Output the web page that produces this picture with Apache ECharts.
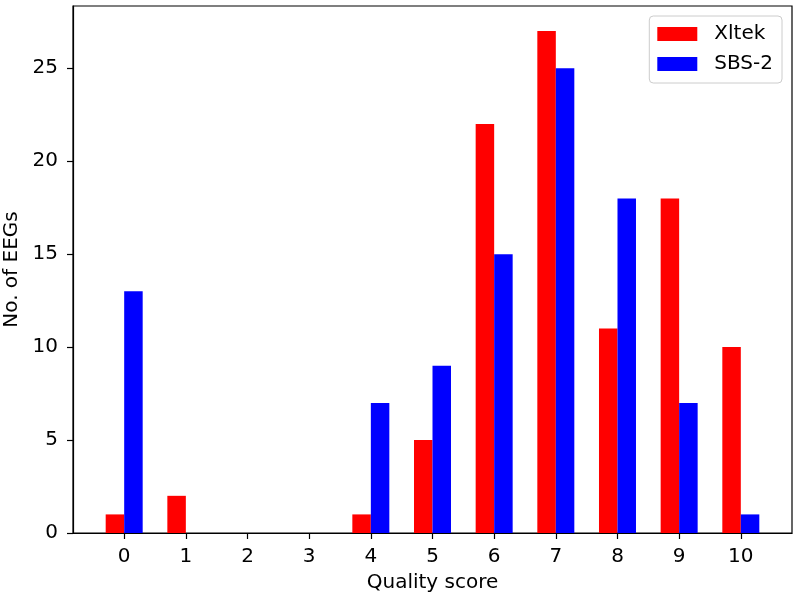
<!DOCTYPE html>
<html>
<head>
<meta charset="utf-8">
<script src="https://cdn.jsdelivr.net/npm/echarts@6/dist/echarts.min.js"></script>
<style>html,body{margin:0;padding:0;background:#fff;}#c{width:800px;height:601px;}</style>
</head>
<body>
<div id="c"></div>
<script>
const scores = [0,1,2,3,4,5,6,7,8,9,10];
const xltek = [1,2,0,0,1,5,22,27,11,18,10];
const sbs2 = [13,0,0,0,7,9,15,25,18,7,1];
const yTicks = [0,5,10,15,20,25];

const chart = echarts.init(document.getElementById('c'));
const font = 'DejaVu Sans';
const fs = 20;
chart.setOption({
  animation: false,
  backgroundColor: '#fff',
  textStyle: {fontFamily: font},
  grid: {left: 73, right: 8, top: 6, bottom: 68, containLabel: false, outerBoundsMode: 'none', show: true, borderColor: '#000', borderWidth: 1.2, backgroundColor: 'transparent'},
  legend: {
    orient: 'vertical', right: 18, top: 16,
    icon: 'rect', itemWidth: 40, itemHeight: 14, itemGap: 10,
    padding: [8, 9, 9, 8],
    backgroundColor: 'rgba(255,255,255,0.8)', borderColor: '#cccccc', borderWidth: 1, borderRadius: 4,
    textStyle: {fontFamily: font, fontSize: fs, color: '#000', padding: [0, 0, 0, 12]},
    data: ['Xltek', 'SBS-2']
  },
  xAxis: {
    type: 'value', min: -0.83, max: 10.83,
    name: 'Quality score', nameLocation: 'middle', nameGap: 40,
    nameTextStyle: {fontFamily: font, fontSize: fs, color: '#000'},
    axisLine: {show: true, onZero: false, lineStyle: {color: '#000', width: 1.2}},
    axisTick: {show: true, inside: false, customValues: scores, length: 6, lineStyle: {color: '#000', width: 1.2}},
    axisLabel: {customValues: scores, fontFamily: font, fontSize: fs, color: '#000', margin: 14},
    splitLine: {show: false}
  },
  yAxis: {
    type: 'value', min: 0, max: 28.35,
    name: 'No. of EEGs', nameLocation: 'middle', nameGap: 47,
    nameTextStyle: {fontFamily: font, fontSize: fs, color: '#000'},
    axisLine: {show: true, onZero: false, lineStyle: {color: '#000', width: 1.2}},
    axisTick: {show: true, inside: false, customValues: yTicks, length: 6, lineStyle: {color: '#000', width: 1.2}},
    axisLabel: {customValues: yTicks, fontFamily: font, fontSize: fs, color: '#000', margin: 15},
    splitLine: {show: false}
  },
  series: [
    {name: 'Xltek', type: 'bar', data: scores.map((s, i) => [s, xltek[i]]), barWidth: 18.5, barGap: '0%', itemStyle: {color: '#ff0000'}},
    {name: 'SBS-2', type: 'bar', data: scores.map((s, i) => [s, sbs2[i]]), barWidth: 18.5, barGap: '0%', itemStyle: {color: '#0000ff'}}
  ]
});
</script>
</body>
</html>
